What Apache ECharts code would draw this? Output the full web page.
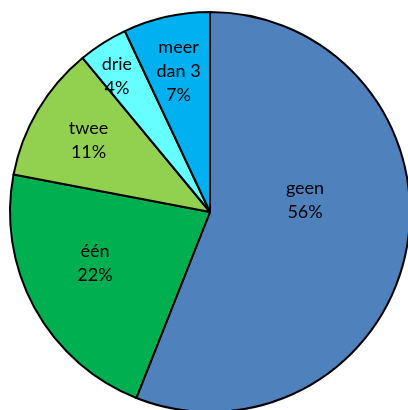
<!DOCTYPE html>
<html>
<head>
<meta charset="utf-8">
<script src="https://cdn.jsdelivr.net/npm/echarts@6/dist/echarts.min.js"></script>
<style>
  html, body { margin: 0; padding: 0; background: #ffffff; }
  #pie_chart { width: 408px; height: 410px; }
</style>
</head>
<body>
<div id="pie_chart"></div>
<script>
// data
var categories = ["geen", "één", "twee", "drie", "meer dan 3"];
var percentages = [56, 22, 11, 4, 7];
var sliceColors = ["#4F81BD", "#00B050", "#92D050", "#66FFFF", "#00B0F0"];
// label placement tweaks: radial factor (vs half radius) and turn in degrees
var labelPush = [0.93, 1.22, 1.37, 1.6, 1.4];
var labelTurn = [-18, 5, 0, -2, 0];

var centerX = 210, centerY = 212;

var pieChart = echarts.init(document.getElementById("pie_chart"));

var pieData = categories.map(function (name, i) {
  return { name: name, value: percentages[i], itemStyle: { color: sliceColors[i] } };
});

var pieChartOptions = {
  animation: false,
  series: [
    {
      type: "pie",
      center: [centerX, centerY],
      radius: [0, 200],
      startAngle: 90,
      clockwise: true,
      silent: true,
      itemStyle: {
        borderColor: "#000000",
        borderWidth: 2
      },
      label: {
        show: true,
        position: "inside",
        fontFamily: "Lato",
        fontSize: 18,
        lineHeight: 24,
        color: "#000000",
        formatter: function (p) {
          return p.name.replace("meer ", "meer\n") + "\n" + p.value + "%";
        }
      },
      labelLine: { show: false },
      labelLayout: function (params) {
        var r = params.labelRect;
        var vx = r.x + r.width / 2 - centerX, vy = r.y + r.height / 2 - centerY;
        var f = labelPush[params.dataIndex];
        var a = labelTurn[params.dataIndex] * Math.PI / 180;
        var nx = (vx * Math.cos(a) - vy * Math.sin(a)) * f;
        var ny = (vx * Math.sin(a) + vy * Math.cos(a)) * f;
        return { dx: nx - vx, dy: ny - vy };
      },
      data: pieData
    }
  ]
};

pieChart.setOption(pieChartOptions);
</script>
</body>
</html>
